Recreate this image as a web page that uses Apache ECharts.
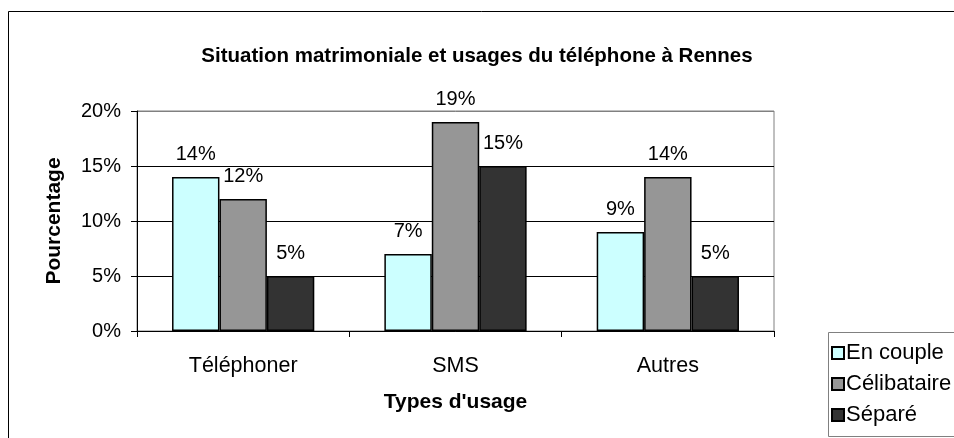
<!DOCTYPE html>
<html>
<head>
<meta charset="utf-8">
<script src="https://cdn.jsdelivr.net/npm/echarts@6/dist/echarts.min.js"></script>
<style>
  html, body { margin: 0; padding: 0; background: #fff; }
  #main { width: 954px; height: 438px; }
</style>
</head>
<body>
<div id="main"></div>
<script>
// données
var categories = ['Téléphoner', 'SMS', 'Autres'];
var enCouple = [14, 7, 9];
var celibataire = [12, 19, 14];
var separe = [5, 15, 5];
var seriesNames = ['En couple', 'Célibataire', 'Séparé'];
var colors = ['#CCFFFF', '#969696', '#333333'];

var myChart = echarts.init(document.getElementById('main'));
var font = 'Liberation Sans, Arial, sans-serif';

function makeSeries(name, data, color) {
    return {
        name: name,
        type: 'bar',
        data: data,
        barGap: '0%',
        barCategoryGap: '33%',
        itemStyle: { color: color, borderColor: '#000', borderWidth: 1.5 },
        label: {
            show: true,
            position: 'top',
            distance: 13,
            formatter: '{c}%',
            color: '#000',
            fontFamily: font,
            fontSize: 20
        }
    };
}

var option = {
    animation: false,
    backgroundColor: '#fff',
    textStyle: { fontFamily: font },
    graphic: [{
        // cadre extérieur
        type: 'rect',
        shape: { x: 8.5, y: 11.5, width: 1000, height: 500 },
        style: { fill: 'none', stroke: '#000', lineWidth: 1 },
        z: -10
    }, {
        // cadre de la légende
        type: 'rect',
        shape: { x: 828.5, y: 332.5, width: 200, height: 104 },
        style: { fill: '#fff', stroke: '#808080', lineWidth: 1 },
        z: -5
    }],
    title: {
        text: 'Situation matrimoniale et usages du téléphone à Rennes',
        left: 472,
        top: 41,
        textAlign: 'center',
        textStyle: { fontFamily: font, fontSize: 20.5, fontWeight: 'bold', color: '#000' }
    },
    legend: {
        orient: 'vertical',
        left: 828,
        top: 332,
        padding: [10, 0, 0, 3],
        itemGap: 9,
        itemWidth: 12,
        itemHeight: 12,
        data: seriesNames,
        icon: 'rect',
        textStyle: { fontFamily: font, fontSize: 22, lineHeight: 21, color: '#000', padding: [0, 0, 0, -3] }
    },
    grid: {
        left: 137,
        right: 180,
        top: 111,
        bottom: 107,
        show: true,
        borderColor: '#808080',
        borderWidth: 1
    },
    xAxis: {
        type: 'category',
        data: categories,
        name: "Types d'usage",
        nameLocation: 'middle',
        nameGap: 61,
        nameTextStyle: { fontFamily: font, fontSize: 21, fontWeight: 'bold', color: '#000' },
        axisLine: { lineStyle: { color: '#000', width: 1 } },
        axisTick: { show: true, length: 6, lineStyle: { color: '#000' } },
        axisLabel: { fontFamily: font, fontSize: 21.5, color: '#000', margin: 24 }
    },
    yAxis: {
        type: 'value',
        min: 0,
        max: 20,
        interval: 5,
        name: 'Pourcentage',
        nameLocation: 'middle',
        nameGap: 72,
        nameTextStyle: { fontFamily: font, fontSize: 21, fontWeight: 'bold', color: '#000' },
        axisLine: { show: true, lineStyle: { color: '#000', width: 1 } },
        axisTick: { show: true, length: 6, lineStyle: { color: '#000' } },
        axisLabel: { fontFamily: font, fontSize: 20, color: '#000', margin: 16, formatter: '{value}%' },
        splitLine: { show: true, lineStyle: { color: ['#000', '#000', '#000', '#000', '#808080'], width: 1 } }
    },
    series: [
        makeSeries(seriesNames[0], enCouple, colors[0]),
        makeSeries(seriesNames[1], celibataire, colors[1]),
        makeSeries(seriesNames[2], separe, colors[2])
    ]
};

myChart.setOption(option);
</script>
</body>
</html>
